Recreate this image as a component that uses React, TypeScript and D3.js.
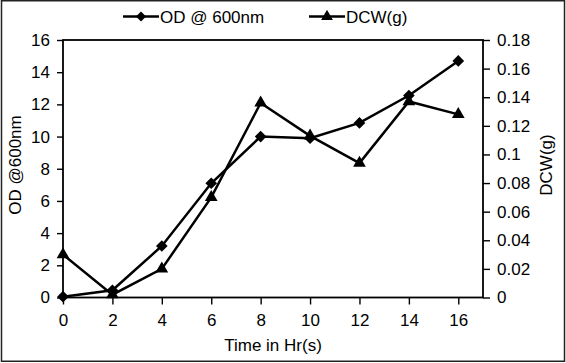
import { useRef, useEffect } from 'react';
import * as d3 from 'd3';

const hours = [0, 2, 4, 6, 8, 10, 12, 14, 16];
const odValues = [0.05, 0.45, 3.2, 7.1, 10.0, 9.9, 10.85, 12.55, 14.7];
const dcwValues = [0.03, 0.002, 0.02, 0.07, 0.136, 0.113, 0.094, 0.137, 0.128];
const leftTicks = [0, 2, 4, 6, 8, 10, 12, 14, 16];
const rightTicks = [0, 0.02, 0.04, 0.06, 0.08, 0.1, 0.12, 0.14, 0.16, 0.18];
const xTicks = [0, 2, 4, 6, 8, 10, 12, 14, 16];

export default function App() {
  const svgRef = useRef<SVGSVGElement>(null);

  useEffect(() => {
    const width = 566;
    const height = 363;
    const margin = { top: 40, right: 83, bottom: 65.5, left: 63 };
    const innerWidth = width - margin.left - margin.right;
    const innerHeight = height - margin.top - margin.bottom;
    const font = 'Liberation Sans, Arial, sans-serif';
    const fs = '17px';

    const svg = d3.select(svgRef.current);
    svg.selectAll('*').remove();
    svg.attr('viewBox', `0 0 ${width} ${height}`);

    svg.append('rect')
      .attr('width', width).attr('height', height).attr('fill', '#fff');

    // outer frame
    svg.append('rect')
      .attr('x', 1.5).attr('y', 0.75)
      .attr('width', width - 3).attr('height', height - 2.5)
      .attr('fill', 'none').attr('stroke', '#222').attr('stroke-width', 1.5);

    const g = svg.append('g')
      .attr('transform', `translate(${margin.left},${margin.top})`);

    const x = d3.scaleLinear().domain([0, 17]).range([0, innerWidth]);
    const yL = d3.scaleLinear().domain([0, 16]).range([innerHeight, 0]);
    const yR = d3.scaleLinear().domain([0, 0.18]).range([innerHeight, 0]);

    const styleAxis = (sel: any) => {
      sel.select('.domain').remove();
      sel.selectAll('line').attr('stroke', '#000').attr('stroke-width', 1.4);
      sel.selectAll('text')
        .attr('fill', '#000')
        .style('font-family', font)
        .style('font-size', fs);
    };

    g.append('g')
      .attr('transform', `translate(0,${innerHeight})`)
      .call(d3.axisBottom(x).tickValues(xTicks).tickSize(7).tickPadding(9).tickFormat(d3.format('d')))
      .call(styleAxis);

    g.append('g')
      .call(d3.axisLeft(yL).tickValues(leftTicks).tickSize(6).tickPadding(7).tickFormat(d3.format('d')))
      .call(styleAxis);

    g.append('g')
      .attr('transform', `translate(${innerWidth},0)`)
      .call(d3.axisRight(yR).tickValues(rightTicks).tickSize(7).tickPadding(7).tickFormat(d => String(+d)))
      .call(styleAxis);

    // plot box
    g.append('rect')
      .attr('width', innerWidth).attr('height', innerHeight)
      .attr('fill', 'none').attr('stroke', '#000').attr('stroke-width', 1.8);

    // axis titles
    svg.append('text')
      .attr('x', 273)
      .attr('y', 351)
      .attr('text-anchor', 'middle')
      .style('font-family', font).style('font-size', fs)
      .text('Time in Hr(s)');

    svg.append('text')
      .attr('transform', `translate(21,165) rotate(-90)`)
      .attr('text-anchor', 'middle')
      .style('font-family', font).style('font-size', fs)
      .text('OD @600nm');

    svg.append('text')
      .attr('transform', `translate(551.5,165) rotate(-90)`)
      .attr('text-anchor', 'middle')
      .style('font-family', font).style('font-size', fs)
      .text('DCW(g)');

    const diamond = d3.symbol().type(d3.symbolSquare).size(68);
    const triangle = d3.symbol().type(d3.symbolTriangle).size(70);

    const odLine = d3.line<number>()
      .x((d, i) => x(hours[i]))
      .y(d => yL(d));
    const dcwLine = d3.line<number>()
      .x((d, i) => x(hours[i]))
      .y(d => yR(d));

    g.append('path')
      .datum(odValues)
      .attr('d', odLine)
      .attr('fill', 'none').attr('stroke', '#000').attr('stroke-width', 2.5);

    g.append('path')
      .datum(dcwValues)
      .attr('d', dcwLine)
      .attr('fill', 'none').attr('stroke', '#000').attr('stroke-width', 2.5);

    g.selectAll('.od-mark')
      .data(odValues)
      .enter()
      .append('path')
      .attr('class', 'od-mark')
      .attr('d', diamond)
      .attr('transform', (d, i) => `translate(${x(hours[i])},${yL(d)}) rotate(45)`)
      .attr('fill', '#000');

    g.selectAll('.dcw-mark')
      .data(dcwValues)
      .enter()
      .append('path')
      .attr('class', 'dcw-mark')
      .attr('d', triangle)
      .attr('transform', (d, i) => `translate(${x(hours[i])},${yR(d)})`)
      .attr('fill', '#000');

    // legend
    const legend = svg.append('g').attr('transform', 'translate(0,16.5)');
    const items = [
      { label: 'OD @ 600nm', x0: 123, sym: diamond, rot: 45 },
      { label: 'DCW(g)', x0: 309, sym: triangle, rot: 0 },
    ];
    const rows = legend.selectAll('g')
      .data(items)
      .enter()
      .append('g')
      .attr('transform', d => `translate(${d.x0},0)`);

    rows.append('line')
      .attr('x1', 0).attr('x2', 36).attr('y1', 0).attr('y2', 0)
      .attr('stroke', '#000').attr('stroke-width', 2.5);

    rows.append('path')
      .attr('d', d => d.sym.size(d.rot ? 50 : 60)())
      .attr('transform', d => `translate(18,0) rotate(${d.rot})`)
      .attr('fill', '#000');

    rows.append('text')
      .attr('x', 37)
      .attr('y', 6)
      .style('font-family', font).style('font-size', fs)
      .text(d => d.label);
  }, []);

  return (
    <svg
      ref={svgRef}
      width={566}
      height={363}
      style={{ position: 'absolute', left: 0, top: 0 }}
    />
  );
}
